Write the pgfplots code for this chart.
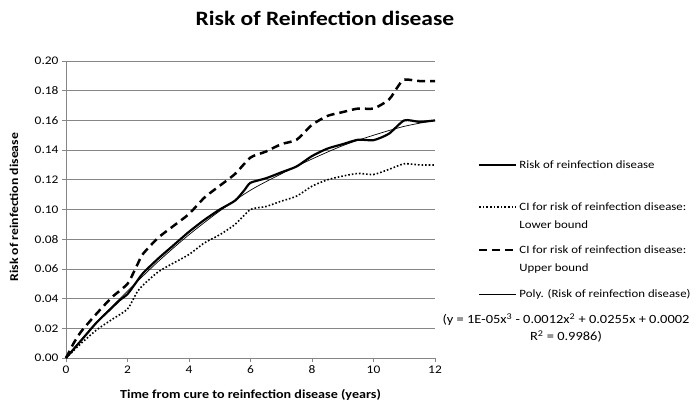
\documentclass[border=0pt]{standalone}
\usepackage{fontspec}
\setmainfont{Carlito}[FakeStretch=1.15]
\usepackage{pgfplots}
\pgfplotsset{compat=1.18}
\definecolor{axgray}{RGB}{134,134,134}
\begin{document}
\begin{tikzpicture}[x=1bp,y=1bp]
\path[use as bounding box] (-66,-50) rectangle (631,358);
\begin{axis}[
    at={(0,0)}, anchor=south west,
    scale only axis,
    width=369bp, height=297bp,
    xmin=0, xmax=12, ymin=0, ymax=0.2,
    xtick={0,2,...,12},
    ytick={0,0.02,...,0.2},
    axis lines*=left,
    axis line style={axgray, line width=0.8pt, -},
    ymajorgrids,
    grid style={axgray, line width=0.8pt},
    tick style={axgray, line width=0.8pt},
    tick align=outside,
    major tick length=4bp,
    /pgf/number format/assume math mode=true,
    yticklabel style={/pgf/number format/.cd, fixed, fixed zerofill, precision=2},
    ticklabel style={font=\fontsize{11.7}{13}\selectfont, text=black},
    xlabel={Time from cure to reinfection disease (years)},
    ylabel={Risk of reinfection disease},
    every axis x label/.style={at={(axis description cs:0.5,-0.125)}, anchor=center,
        font=\fontsize{12.3}{15}\selectfont\bfseries},
    every axis y label/.style={at={(axis description cs:-0.141,0.508)}, anchor=center, rotate=90,
        font=\fontsize{12}{15}\selectfont\bfseries},
    legend style={draw=none, fill=none, inner sep=0pt, outer sep=0pt,
        at={(axis description cs:1.1165,0.682)}, anchor=north west,
        font=\fontsize{11.2}{13}\selectfont, row sep=0pt, column sep=0pt,
        cells={anchor=base west, text height=11bp, text depth=4bp}},
    legend image code/.code={\draw[#1] (0bp,3.5bp) -- (37bp,3.5bp);},
    clip=false,
]
\addplot[black, line width=2.2pt, smooth, tension=0.4] coordinates {
(0,0) (0.5,0.012) (1,0.024) (1.5,0.034) (1.75,0.039) (2,0.043) (2.25,0.050)
(2.5,0.057) (3,0.067) (3.5,0.076) (4,0.085) (4.5,0.093) (5,0.100) (5.5,0.106)
(5.8,0.113) (6,0.118) (6.5,0.121) (7,0.125) (7.5,0.129) (8,0.136) (8.5,0.141)
(9,0.144) (9.5,0.147) (10,0.1467) (10.5,0.151) (11,0.160) (11.5,0.159) (12,0.160)
};
\addlegendentry[text depth=27bp]{Risk of reinfection disease}
\addplot[black, line width=1.6pt, dotted, smooth, tension=0.4] coordinates {
(0,0) (0.5,0.010) (1,0.019) (1.5,0.026) (2,0.033) (2.3,0.044) (2.5,0.049)
(3,0.058) (3.5,0.064) (4,0.0697) (4.5,0.0775) (5,0.083) (5.5,0.090) (6,0.100)
(6.5,0.102) (7,0.1056) (7.5,0.109) (8,0.1157) (8.5,0.120) (9,0.1225) (9.5,0.1243)
(10,0.1236) (10.5,0.127) (11,0.1308) (11.5,0.130) (12,0.130)
};
\addlegendentry[text depth=3bp]{CI for risk of reinfection disease:}
\addlegendimage{empty legend}
\addlegendentry[text depth=10bp]{Lower bound}
\addplot[black, line width=2.5pt, dash pattern=on 8bp off 5bp, smooth, tension=0.4] coordinates {
(0,0) (0.25,0.010) (0.5,0.018) (1,0.030) (1.5,0.041) (2,0.050) (2.3,0.062)
(2.5,0.070) (3,0.081) (3.5,0.089) (4,0.097) (4.5,0.108) (5,0.116) (5.5,0.124)
(6,0.135) (6.5,0.139) (7,0.144) (7.5,0.147) (8,0.157) (8.5,0.163) (9,0.1656)
(9.5,0.168) (10,0.168) (10.5,0.174) (10.8,0.183) (11,0.1875) (11.5,0.1865) (12,0.1865)
};
\addlegendentry[text depth=3bp]{CI for risk of reinfection disease:}
\addlegendimage{empty legend}
\addlegendentry[text depth=11bp]{Upper bound}
\addplot[black, line width=0.7pt, smooth] coordinates {
(0,0.0005) (1,0.024) (2,0.045) (3,0.065) (4,0.083) (5,0.099) (6,0.113)
(7,0.124) (8,0.134) (9,0.143) (10,0.150) (11,0.156) (12,0.160)
};
\addlegendentry{Poly. (Risk of reinfection disease)}
\end{axis}
\node[font=\fontsize{20.5}{24}\selectfont\bfseries] at (259,340) {Risk of Reinfection disease};
\node[font=\fontsize{12.6}{17}\selectfont, align=center] at (500,30)
  {(y = 1E-05x\textsuperscript{3} - 0.0012x\textsuperscript{2} + 0.0255x + 0.0002\\R\textsuperscript{2} = 0.9986)};
\end{tikzpicture}
\end{document}
